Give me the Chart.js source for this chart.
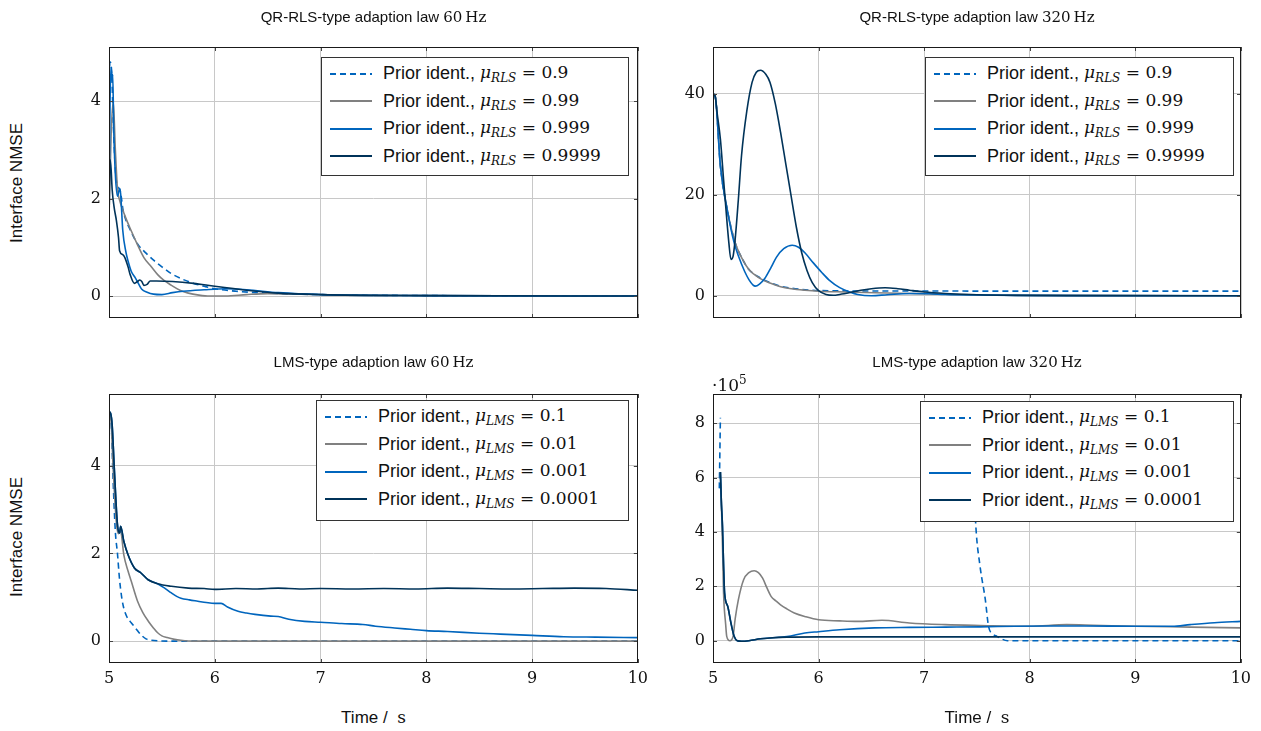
<!DOCTYPE html>
<html>
<head>
<meta charset="utf-8">
<script src="https://cdn.jsdelivr.net/npm/chart.js@4.4.0/dist/chart.umd.min.js"></script>
<style>
body { margin: 0; background: #fff; }
#wrap { position: relative; width: 1261px; height: 731px; overflow: hidden; font-family: 'Liberation Sans', Arial, sans-serif; color: #111; }
canvas { position: absolute; }
.title { position: absolute; text-align: center; font-size: 15px; height: 20px; line-height: 20px; white-space: nowrap; }
.m { font-family: 'DejaVu Serif', serif; }
.ylab { position: absolute; width: 200px; height: 20px; line-height: 20px; text-align: center; font-size: 17px; transform: rotate(-90deg); }
.legend { position: absolute; background: #fff; border: 1px solid #333; box-sizing: border-box; padding: 2px 0 0 8px; }
.row { height: 27.5px; display: flex; align-items: center; white-space: nowrap; font-size: 18px; }
.row .m { font-size: 17px; }
.row svg { margin-right: 11px; flex: none; }
.row sub { font-size: 12px; vertical-align: -4px; }
</style>
</head>
<body>
<div id="wrap"></div>
<script>
// x axis (time in s)
const xTicks = [5, 6, 7, 8, 9, 10];
const rlsMu = ['0.9', '0.99', '0.999', '0.9999'];
const lmsMu = ['0.1', '0.01', '0.001', '0.0001'];
const seriesColors = ['#0065bd', '#808080', '#0065bd', '#003359'];

// QR-RLS 60 Hz, [time, NMSE]
const rls60Mu09 = [[5.0,4.5],[5.01,4.8],[5.025,4.6],[5.04,3.6],[5.06,2.6],[5.08,2.25],[5.1,2.2],[5.115,2.05],[5.13,1.8],[5.15,1.62],[5.2,1.36],[5.27,1.07],[5.35,0.88],[5.43,0.72],[5.5,0.6],[5.59,0.46],[5.7,0.34],[5.8,0.26],[5.9,0.2],[6.0,0.15],[6.2,0.1],[6.5,0.06],[7.0,0.03],[8.0,0.01],[10,0.0]];
const rls60Mu099 = [[5.0,1.6],[5.02,3.3],[5.04,4.0],[5.06,3.0],[5.08,2.2],[5.1,1.97],[5.15,1.65],[5.21,1.34],[5.27,1.05],[5.33,0.79],[5.4,0.6],[5.46,0.44],[5.52,0.32],[5.59,0.22],[5.67,0.12],[5.75,0.06],[5.85,0.02],[5.95,0.0],[6.1,0.0],[6.3,0.03],[6.5,0.05],[6.8,0.04],[7.2,0.02],[8.0,0.01],[10,0.0]];
const rls60Mu0999 = [[5.0,1.8],[5.01,4.0],[5.02,4.7],[5.03,4.4],[5.035,4.55],[5.045,3.4],[5.06,2.5],[5.08,2.05],[5.1,2.2],[5.11,2.1],[5.13,1.35],[5.16,0.9],[5.18,0.72],[5.21,0.51],[5.25,0.37],[5.28,0.25],[5.31,0.14],[5.36,0.08],[5.42,0.04],[5.5,0.03],[5.6,0.07],[5.7,0.1],[5.9,0.13],[6.1,0.15],[6.3,0.13],[6.6,0.07],[7.0,0.03],[8.0,0.01],[10,0.0]];
const rls60Mu09999 = [[5.0,1.5],[5.01,2.8],[5.02,2.6],[5.03,2.18],[5.05,1.8],[5.07,1.55],[5.09,1.2],[5.1,0.93],[5.13,0.85],[5.15,0.79],[5.18,0.6],[5.2,0.44],[5.24,0.26],[5.27,0.3],[5.29,0.33],[5.31,0.3],[5.33,0.22],[5.36,0.24],[5.39,0.31],[5.45,0.31],[5.6,0.3],[5.8,0.26],[6.0,0.2],[6.3,0.12],[6.6,0.06],[7.0,0.03],[8.0,0.01],[10,0.0]];

// QR-RLS 320 Hz
const rls320Mu09 = [[5.0,39.9],[5.02,39.5],[5.07,25.7],[5.14,16.5],[5.21,10.5],[5.28,7.2],[5.34,5.2],[5.44,3.6],[5.54,2.6],[5.64,1.9],[5.74,1.5],[5.9,1.15],[6.1,1.0],[6.5,0.94],[7.0,0.93],[8.0,0.92],[10,0.92]];
const rls320Mu099 = [[5.0,39.9],[5.02,39.5],[5.07,25.7],[5.14,16.5],[5.21,10.5],[5.28,7.2],[5.34,5.2],[5.44,3.5],[5.54,2.5],[5.64,1.8],[5.74,1.4],[5.87,1.1],[6.0,0.9],[6.25,0.75],[6.53,0.6],[6.86,0.45],[7.2,0.3],[7.6,0.15],[8.2,0.07],[9.0,0.02],[10,0.0]];
const rls320Mu0999 = [[5.0,39.9],[5.02,39.5],[5.07,25.7],[5.14,16.4],[5.2,10.5],[5.24,7.9],[5.3,4.8],[5.34,3.2],[5.38,2.1],[5.4,1.9],[5.44,2.3],[5.49,3.4],[5.55,5.6],[5.6,7.6],[5.67,9.3],[5.75,10.0],[5.81,9.6],[5.87,8.5],[5.95,6.5],[6.03,4.6],[6.1,3.1],[6.2,1.6],[6.3,0.7],[6.37,0.26],[6.5,0.0],[6.65,0.2],[6.86,0.46],[7.05,0.4],[7.2,0.26],[7.5,0.15],[7.86,0.08],[8.5,0.02],[10,0.0]];
const rls320Mu09999 = [[5.0,39.9],[5.02,39.5],[5.04,36],[5.07,31],[5.1,23],[5.12,17.8],[5.15,10.5],[5.17,7.2],[5.19,7.8],[5.21,11.2],[5.24,19],[5.27,27.7],[5.32,36.5],[5.37,42.2],[5.41,44.2],[5.45,44.6],[5.5,43.8],[5.54,42.2],[5.59,38],[5.64,32.3],[5.69,26],[5.74,19.7],[5.79,13.5],[5.84,8.5],[5.89,5],[5.94,2.6],[6.0,1.0],[6.07,0.26],[6.14,0.1],[6.2,0.26],[6.3,0.65],[6.4,1.1],[6.5,1.4],[6.63,1.58],[6.75,1.4],[6.86,1.1],[7.0,0.75],[7.2,0.46],[7.5,0.2],[7.86,0.07],[8.5,0.02],[10,0.0]];

// LMS 60 Hz
const lms60Mu01 = [[5.0,5.2],[5.02,5.0],[5.04,3.6],[5.06,2.5],[5.08,2.0],[5.1,1.4],[5.12,1.0],[5.14,0.75],[5.17,0.55],[5.21,0.42],[5.25,0.3],[5.3,0.15],[5.35,0.05],[5.4,0.02],[5.6,0.0],[10,0.0]];
const lms60Mu001 = [[5.0,5.2],[5.02,5.0],[5.04,3.9],[5.07,2.7],[5.09,2.45],[5.11,2.5],[5.14,1.97],[5.18,1.6],[5.21,1.37],[5.27,0.91],[5.32,0.65],[5.37,0.46],[5.42,0.3],[5.46,0.19],[5.5,0.12],[5.55,0.08],[5.62,0.04],[5.68,0.02],[5.8,0.0],[10,0.0]];
const lms60Mu0001 = [[5.0,5.24],[5.015,5.2],[5.03,4.93],[5.05,3.95],[5.08,2.66],[5.1,2.47],[5.11,2.62],[5.14,2.28],[5.18,1.97],[5.24,1.67],[5.3,1.56],[5.37,1.4],[5.46,1.31],[5.52,1.22],[5.59,1.1],[5.64,1.02],[5.68,0.98],[5.76,0.94],[5.84,0.91],[5.92,0.88],[6.0,0.86],[6.06,0.86],[6.12,0.78],[6.22,0.68],[6.3,0.64],[6.38,0.61],[6.53,0.57],[6.6,0.56],[6.7,0.5],[6.85,0.45],[7.0,0.43],[7.2,0.4],[7.4,0.38],[7.52,0.34],[7.7,0.3],[7.85,0.27],[8.0,0.24],[8.2,0.22],[8.5,0.18],[8.7,0.16],[9.0,0.13],[9.3,0.1],[9.6,0.09],[10,0.08]];
const lms60Mu00001 = [[5.0,5.24],[5.015,5.2],[5.03,4.93],[5.05,3.95],[5.08,2.66],[5.1,2.47],[5.11,2.62],[5.14,2.28],[5.18,1.97],[5.24,1.67],[5.3,1.56],[5.37,1.4],[5.46,1.31],[5.59,1.25],[5.75,1.21],[5.9,1.2],[6.0,1.18],[6.2,1.2],[6.4,1.19],[6.6,1.21],[6.8,1.19],[7.0,1.2],[7.3,1.19],[7.6,1.2],[7.9,1.19],[8.2,1.21],[8.5,1.2],[8.8,1.19],[9.1,1.2],[9.4,1.21],[9.7,1.2],[10,1.16]];

// LMS 320 Hz, NMSE in units of 1e5
const lms320Mu01 = [[5.06,5.6],[5.07,8.2],[6.3,null],[7.47,6.0],[7.49,4.2],[7.53,2.73],[7.58,1.5],[7.61,0.53],[7.65,0.25],[7.69,0.16],[7.79,0.0],[10,0.0]];
const lms320Mu001 = [[5.07,6.2],[5.08,5.0],[5.09,3.5],[5.1,1.75],[5.12,0.6],[5.13,0.16],[5.16,0.0],[5.19,0.16],[5.21,0.8],[5.24,1.5],[5.29,2.24],[5.34,2.5],[5.39,2.57],[5.43,2.5],[5.47,2.3],[5.51,1.95],[5.55,1.63],[5.6,1.45],[5.64,1.32],[5.7,1.17],[5.77,1.02],[5.88,0.88],[6.0,0.77],[6.2,0.73],[6.37,0.71],[6.6,0.75],[6.86,0.65],[7.2,0.59],[7.53,0.56],[8.0,0.53],[8.35,0.59],[8.6,0.57],[9.0,0.53],[9.52,0.5],[10,0.47]];
const lms320Mu0001 = [[5.07,6.2],[5.08,5.0],[5.09,4.2],[5.1,2.8],[5.11,1.75],[5.14,1.26],[5.17,0.65],[5.2,0.16],[5.23,0.0],[5.27,-0.02],[5.34,0.0],[5.45,0.07],[5.54,0.1],[5.7,0.15],[5.87,0.28],[6.0,0.33],[6.2,0.4],[6.53,0.47],[6.86,0.49],[7.2,0.5],[7.53,0.51],[7.86,0.53],[8.19,0.54],[8.52,0.54],[9.0,0.53],[9.35,0.53],[9.52,0.59],[9.75,0.66],[10,0.71]];
const lms320Mu00001 = [[5.07,6.2],[5.08,5.0],[5.09,4.2],[5.1,2.8],[5.11,1.75],[5.14,1.26],[5.17,0.65],[5.2,0.16],[5.23,0.0],[5.27,-0.02],[5.34,0.0],[5.45,0.07],[5.54,0.1],[5.7,0.13],[6.0,0.14],[7.0,0.14],[8.0,0.14],[9.0,0.14],[10,0.14]];

const wrap = document.getElementById('wrap');

// Draws the axis frame and the small inner tick marks
const framePlugin = {
    id: 'frame',
    afterDatasetsDraw(chart) {
        const a = chart.chartArea;
        const ctx = chart.ctx;
        const xs = chart.scales.x, ys = chart.scales.y;
        ctx.save();
        ctx.strokeStyle = '#444';
        ctx.lineWidth = 1;
        ctx.beginPath();
        xs.ticks.forEach(t => {
            const px = Math.round(xs.getPixelForValue(t.value)) + 0.5;
            ctx.moveTo(px, a.top); ctx.lineTo(px, a.top + 4);
            ctx.moveTo(px, a.bottom); ctx.lineTo(px, a.bottom - 4);
        });
        ys.ticks.forEach(t => {
            const py = Math.round(ys.getPixelForValue(t.value)) + 0.5;
            ctx.moveTo(a.left, py); ctx.lineTo(a.left + 4, py);
            ctx.moveTo(a.right, py); ctx.lineTo(a.right - 4, py);
        });
        ctx.stroke();
        ctx.strokeStyle = '#1a1a1a';
        ctx.strokeRect(Math.round(a.left) + 0.5, Math.round(a.top) + 0.5, Math.round(a.width) - 1, Math.round(a.height) - 1);
        ctx.restore();
    }
};

function makeChart(plot, yMin, yMax, yTicks, series, showX) {
    const yW = 60, padT = 24, padR = 16;
    const xH = showX ? 32 : 0;
    const padB = showX ? 0 : 24;
    const w = yW + plot.w + padR;
    const h = padT + plot.h + xH + padB;
    const cv = document.createElement('canvas');
    cv.width = w; cv.height = h;
    cv.style.left = (plot.x - yW) + 'px';
    cv.style.top = (plot.y - padT) + 'px';
    cv.style.width = w + 'px'; cv.style.height = h + 'px';
    wrap.appendChild(cv);

    const datasets = series.map((pts, i) => ({
        data: pts.map(p => ({ x: p[0], y: p[1] })),
        borderColor: seriesColors[i],
        borderWidth: 1.6,
        borderDash: i === 0 ? [6, 4] : [],
        pointRadius: 0,
        fill: false,
        spanGaps: false,
        cubicInterpolationMode: 'monotone',
        order: 4 - i
    }));

    const tickFont = { family: "'DejaVu Serif', serif", size: 16 };
    return new Chart(cv, {
        type: 'line',
        data: { datasets },
        options: {
            responsive: false,
            animation: false,
            layout: { padding: { top: padT, right: padR, bottom: padB, left: 0 } },
            plugins: { legend: { display: false }, tooltip: { enabled: false } },
            scales: {
                x: {
                    type: 'linear', min: 5, max: 10,
                    afterBuildTicks: s => { s.ticks = xTicks.map(v => ({ value: v })); },
                    afterFit: s => { s.height = xH; },
                    border: { display: false },
                    grid: { color: '#c8c8c8', lineWidth: 1, drawTicks: false },
                    ticks: { display: showX, font: tickFont, color: '#111', padding: 6, maxRotation: 0 }
                },
                y: {
                    type: 'linear', min: yMin, max: yMax,
                    afterBuildTicks: s => { s.ticks = yTicks.map(v => ({ value: v })); },
                    afterFit: s => { s.width = yW; },
                    border: { display: false },
                    grid: { color: '#c8c8c8', lineWidth: 1, drawTicks: false },
                    ticks: { font: tickFont, color: '#111', padding: 8 }
                }
            }
        },
        plugins: [framePlugin]
    });
}

function addText(cls, html, css) {
    const d = document.createElement('div');
    d.className = cls;
    d.innerHTML = html;
    Object.assign(d.style, css);
    wrap.appendChild(d);
}

function addLegend(box, sub, mus) {
    const d = document.createElement('div');
    d.className = 'legend';
    Object.assign(d.style, { left: box.x + 'px', top: box.y + 'px', width: box.w + 'px', height: box.h + 'px' });
    d.innerHTML = mus.map((mu, i) =>
        '<div class="row"><svg width="42" height="4"><line x1="0" y1="2" x2="42" y2="2" stroke="' + seriesColors[i] +
        '" stroke-width="2"' + (i === 0 ? ' stroke-dasharray="6 4"' : '') + '/></svg>' +
        'Prior ident.,&nbsp;<span class="m"><i>μ</i><sub><i>' + sub + '</i></sub> = ' + mu + '</span></div>'
    ).join('');
    wrap.appendChild(d);
}

const plotTL = { x: 109, y: 47, w: 529, h: 271 };
const plotTR = { x: 713, y: 47, w: 528, h: 271 };
const plotBL = { x: 109, y: 394, w: 529, h: 269 };
const plotBR = { x: 713, y: 394, w: 528, h: 269 };

makeChart(plotTL, -0.45, 5.11, [0, 2, 4], [rls60Mu09, rls60Mu099, rls60Mu0999, rls60Mu09999], false);
makeChart(plotTR, -4.4, 49.2, [0, 20, 40], [rls320Mu09, rls320Mu099, rls320Mu0999, rls320Mu09999], false);
makeChart(plotBL, -0.5, 5.64, [0, 2, 4], [lms60Mu01, lms60Mu001, lms60Mu0001, lms60Mu00001], true);
makeChart(plotBR, -0.82, 9.07, [0, 2, 4, 6, 8], [lms320Mu01, lms320Mu001, lms320Mu0001, lms320Mu00001], true);

// titles
addText('title', 'QR-RLS-type adaption law <span class="m">60&#8201;Hz</span>', { left: '109px', width: '529px', top: '7px' });
addText('title', 'QR-RLS-type adaption law <span class="m">320&#8201;Hz</span>', { left: '713px', width: '528px', top: '7px' });
addText('title', 'LMS-type adaption law <span class="m">60&#8201;Hz</span>', { left: '109px', width: '529px', top: '352px' });
addText('title', 'LMS-type adaption law <span class="m">320&#8201;Hz</span>', { left: '713px', width: '528px', top: '352px' });

// axis labels
addText('ylab', 'Interface NMSE', { left: '-83px', top: '173px' });
addText('ylab', 'Interface NMSE', { left: '-83px', top: '527px' });
addText('title', 'Time /&nbsp;&nbsp;<span class="m">s</span>', { left: '109px', width: '529px', top: '707px', fontSize: '17px' });
addText('title', 'Time /&nbsp;&nbsp;<span class="m">s</span>', { left: '713px', width: '528px', top: '707px', fontSize: '17px' });
addText('title', '<span class="m">·10<sup style="font-size:12px">5</sup></span>', { left: '712px', width: '50px', top: '370px', textAlign: 'left', fontSize: '17px' });

// legends
addLegend({ x: 321, y: 57, w: 308, h: 119 }, 'RLS', rlsMu);
addLegend({ x: 925, y: 57, w: 309, h: 119 }, 'RLS', rlsMu);
addLegend({ x: 316, y: 400, w: 313, h: 121 }, 'LMS', lmsMu);
addLegend({ x: 920, y: 401, w: 314, h: 121 }, 'LMS', lmsMu);
</script>
</body>
</html>
